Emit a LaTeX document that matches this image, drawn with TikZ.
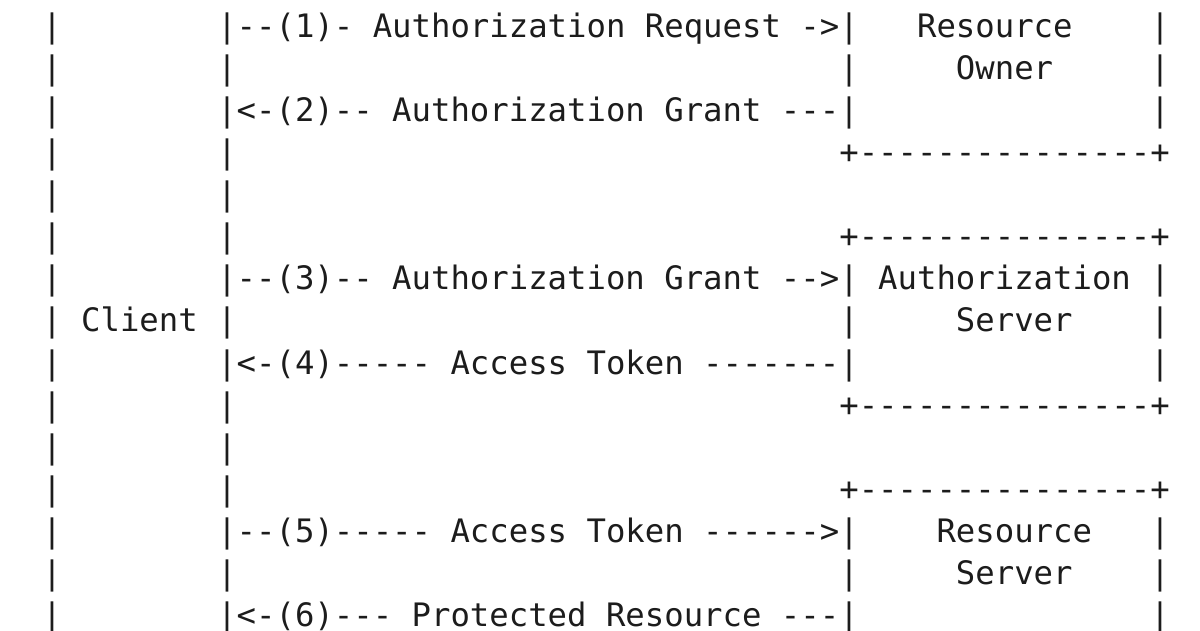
\documentclass[tikz,border=0pt]{standalone}
\usepackage{fontspec}
\newfontfamily\asciimono{DejaVu Sans Mono}
\definecolor{ink}{RGB}{28,28,28}
% place text at character column #2 and text row #3
\newcommand\cellat[4]{\node[cell] (#1) at ({-54.9+19.44*#2},{37+42.14*#3}) {#4};}
\begin{document}
\begin{tikzpicture}[x=1pt,y=-1pt,
  cell/.style={anchor=base west, inner sep=0pt, outer sep=0pt, text=ink,
    font=\asciimono\fontsize{32.29}{42}\selectfont}]
\fill[white] (0,0) rectangle (1200,630);
\useasboundingbox (0,0) rectangle (1200,630);
% client box left edge
\foreach \r in {0,...,14} {\cellat{cl\r}{5}{\r}{|}}
% client box right edge (rows without messages)
\foreach \r in {1,3,4,5,7,9,10,11,13} {\cellat{cr\r}{14}{\r}{|}}
\cellat{client}{7}{7}{Client}
% messages
\cellat{m1}{14}{0}{|--(1)- Authorization Request ->|}
\cellat{m2}{14}{2}{|<-(2)-- Authorization Grant ---|}
\cellat{m3}{14}{6}{|--(3)-- Authorization Grant -->|}
\cellat{m4}{14}{8}{|<-(4)----- Access Token -------|}
\cellat{m5}{14}{12}{|--(5)----- Access Token ------>|}
\cellat{m6}{14}{14}{|<-(6)--- Protected Resource ---|}
% server boxes
\foreach \r in {1,7,13} {\cellat{sl\r}{46}{\r}{|}}
\foreach \r in {0,1,2,6,7,8,12,13,14} {\cellat{sr\r}{62}{\r}{|}}
\foreach \r in {3,5,9,11} {\cellat{edge\r}{46}{\r}{+---------------+}}
\cellat{ro1}{50}{0}{Resource}
\cellat{ro2}{52}{1}{Owner}
\cellat{as1}{48}{6}{Authorization}
\cellat{as2}{52}{7}{Server}
\cellat{rs1}{51}{12}{Resource}
\cellat{rs2}{52}{13}{Server}
\end{tikzpicture}
\end{document}
